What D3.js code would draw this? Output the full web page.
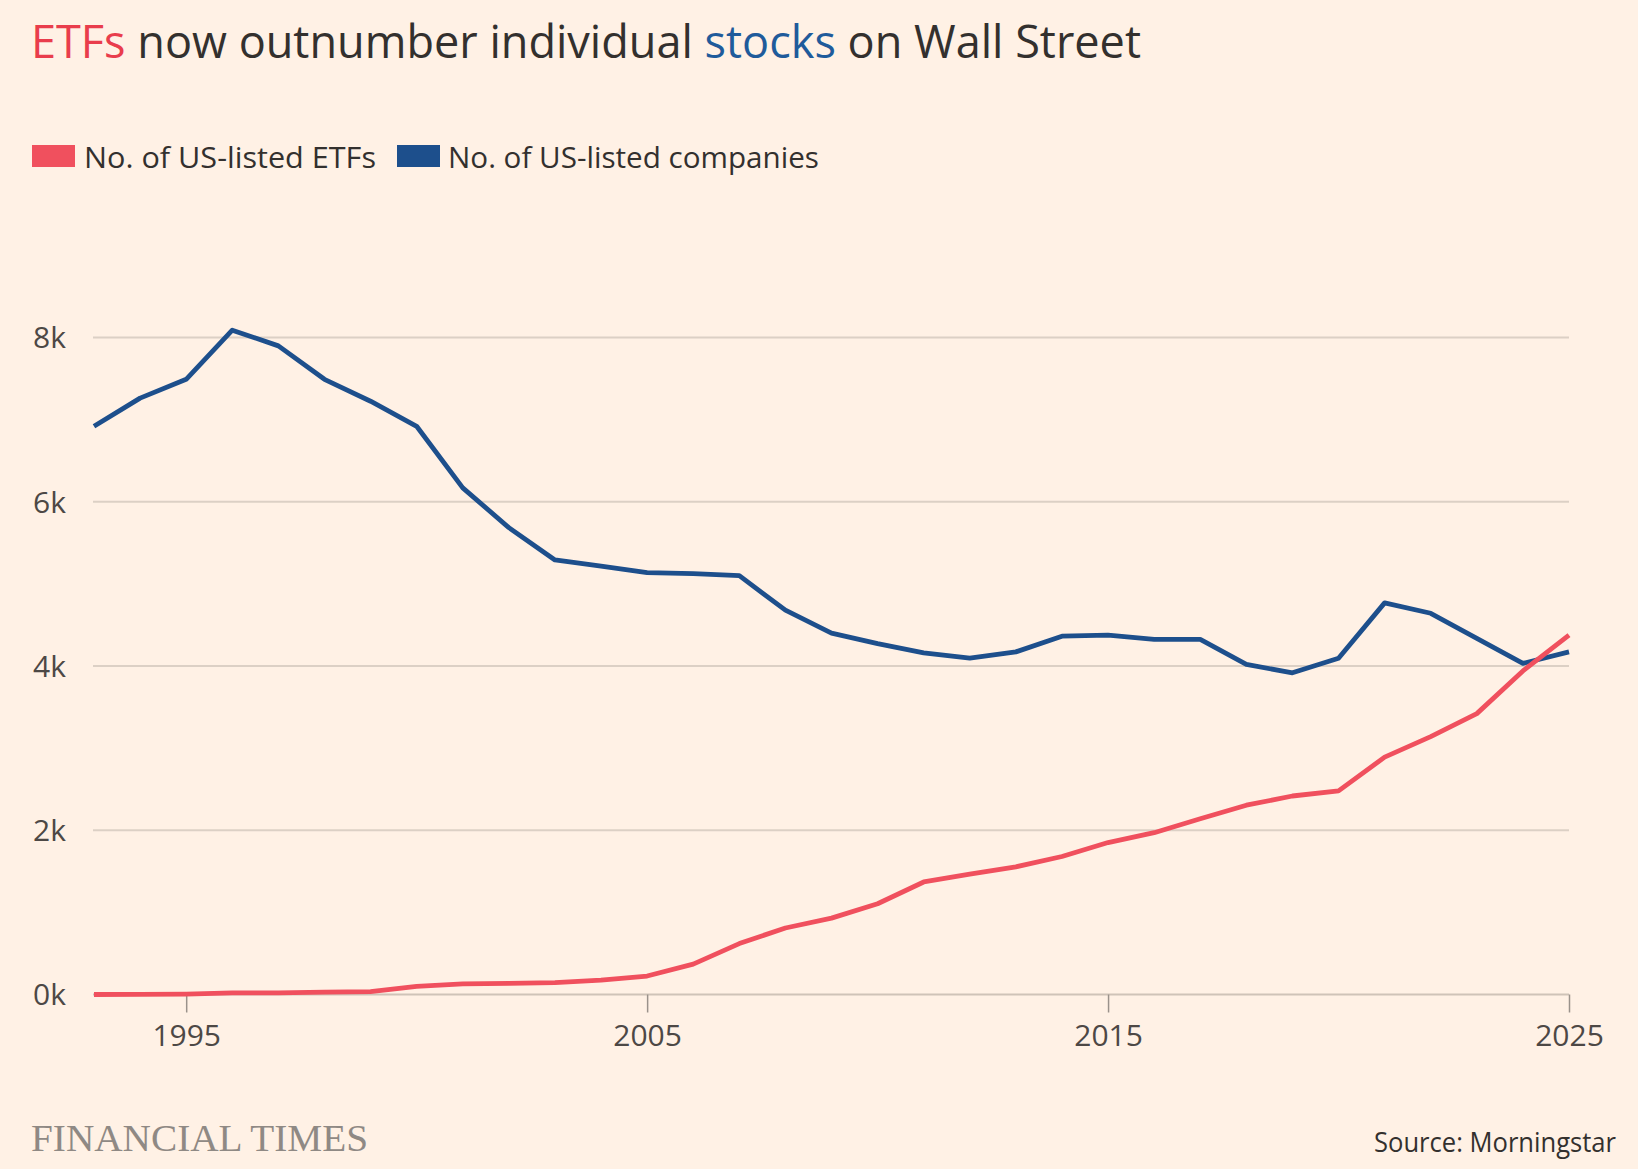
<!DOCTYPE html>
<html>
<head>
<meta charset="utf-8">
<script src="https://cdn.jsdelivr.net/npm/d3@7"></script>
<style>
  html, body { margin: 0; padding: 0; background: #fff1e5; }
  svg { display: block; font-family: "Open Sans", "Noto Sans", sans-serif; }
</style>
</head>
<body>
<svg id="chart" width="1638" height="1169"></svg>
<script>
const years = d3.range(1993, 2026);
const etfs = [0, 2, 5, 20, 20, 30, 35, 100, 130, 135, 145, 175, 225, 370, 620, 810, 930, 1105, 1370, 1465, 1555, 1680, 1850, 1970, 2140, 2305, 2417, 2480, 2890, 3140, 3420, 3940, 4375];
const companies = [6919, 7262, 7491, 8089, 7898, 7491, 7224, 6919, 6169, 5685, 5291, 5215, 5138, 5126, 5100, 4680, 4401, 4273, 4159, 4095, 4172, 4363, 4375, 4324, 4324, 4019, 3917, 4095, 4769, 4642, 4337, 4032, 4172];
const yTicks = [0, 2000, 4000, 6000, 8000];
const xTicks = [1995, 2005, 2015, 2025];
const seriesNames = ["No. of US-listed ETFs", "No. of US-listed companies"];
const colors = ["#f0505e", "#1d4f8c"];

const svg = d3.select("#chart");
svg.append("rect").attr("width", 1638).attr("height", 1169).attr("fill", "#fff1e5");

const x = d3.scaleLinear().domain([1993, 2025]).range([94, 1569]);
const y = d3.scaleLinear().domain([0, 8000]).range([994.5, 337.5]);

// Title
const title = svg.append("text").attr("x", 31).attr("y", 58)
  .attr("font-size", 46).attr("fill", "#33302e")
  .attr("textLength", 1110).attr("lengthAdjust", "spacingAndGlyphs");
title.append("tspan").attr("fill", "#e93d4c").text("ETFs");
title.append("tspan").text(" now outnumber individual ");
title.append("tspan").attr("fill", "#1f5b9b").text("stocks");
title.append("tspan").text(" on Wall Street");

// Legend
const legendItems = [
  {name: seriesNames[0], color: colors[0], sx: 32, tx: 84, tw: 292},
  {name: seriesNames[1], color: colors[1], sx: 397, tx: 448, tw: 371}
];
legendItems.forEach(d => {
  svg.append("rect").attr("x", d.sx).attr("y", 145).attr("width", 43).attr("height", 22).attr("fill", d.color);
  svg.append("text").attr("x", d.tx).attr("y", 168).attr("font-size", 30).attr("fill", "#33302e")
    .attr("textLength", d.tw).attr("lengthAdjust", "spacingAndGlyphs").text(d.name);
});

// Gridlines
svg.append("g").selectAll("line").data(yTicks).join("line")
  .attr("x1", 93).attr("x2", 1569)
  .attr("y1", d => y(d)).attr("y2", d => y(d))
  .attr("stroke", d => d === 0 ? "#cfc3b8" : "#dcd0c5").attr("stroke-width", 2);

// Y labels
svg.append("g").selectAll("text").data(yTicks).join("text")
  .attr("x", 33).attr("y", d => y(d)).attr("dy", "0.36em")
  .attr("font-size", 30).attr("fill", "#4d4845")
  .text(d => (d / 1000) + "k");

// X axis
const xAxis = d3.axisBottom(x).tickValues(xTicks).tickSize(18).tickFormat(d3.format("d"));
const gx = svg.append("g").attr("transform", `translate(0,${y(0)})`).call(xAxis)
  .attr("font-family", "'Open Sans', sans-serif");
gx.select(".domain").remove();
gx.selectAll(".tick line").attr("stroke", "#9a928b").attr("stroke-width", 1.5);
gx.selectAll(".tick text").attr("font-size", 30).attr("fill", "#4d4845")
  .attr("y", 30).attr("dy", "0.71em");

// Lines
const line = d3.line().x((d, i) => x(years[i])).y(d => y(d));
[companies, etfs].forEach((s, k) => {
  svg.append("path").datum(s).attr("d", line)
    .attr("fill", "none").attr("stroke", k === 0 ? colors[1] : colors[0])
    .attr("stroke-width", 4.8).attr("stroke-linejoin", "round");
});

// Footer
svg.append("text").attr("x", 31).attr("y", 1151)
  .attr("font-family", "'Liberation Serif', 'DejaVu Serif', serif")
  .attr("font-size", 38).attr("fill", "#8f8984")
  .attr("textLength", 337).attr("lengthAdjust", "spacingAndGlyphs").text("FINANCIAL TIMES");
svg.append("text").attr("x", 1616).attr("y", 1152).attr("text-anchor", "end")
  .attr("font-size", 27).attr("fill", "#33302e")
  .attr("textLength", 242).attr("lengthAdjust", "spacingAndGlyphs").text("Source: Morningstar");
</script>
</body>
</html>
